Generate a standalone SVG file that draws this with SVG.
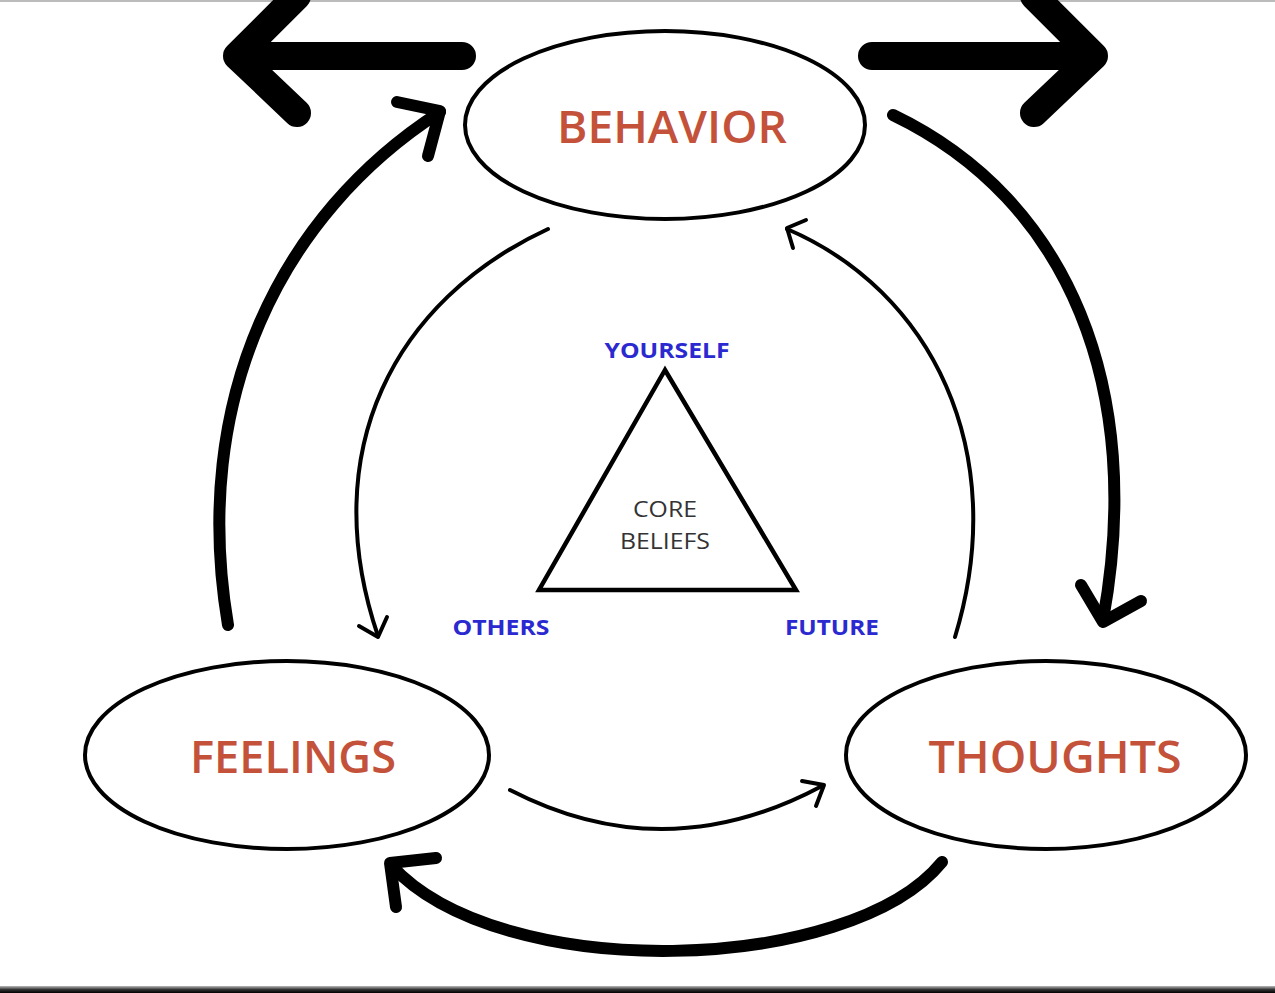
<svg xmlns="http://www.w3.org/2000/svg" width="1275" height="993" viewBox="0 0 1275 993">
  <defs>
    <linearGradient id="barGrad" x1="0" y1="0" x2="0" y2="1">
      <stop offset="0" stop-color="#bbbbbb"/>
      <stop offset="0.5" stop-color="#333333"/>
      <stop offset="1" stop-color="#000000"/>
    </linearGradient>
  </defs>
  <style>
    .node { fill: #ffffff; stroke: #000000; stroke-width: 4; }
    .main { font-family: "Open Sans", "Liberation Sans", sans-serif; font-weight: 600; font-size: 46px; fill: #c4523a; text-anchor: middle; }
    .dir { font-family: "Open Sans", "Liberation Sans", sans-serif; font-weight: 700; font-size: 21px; fill: #2a2ad0; text-anchor: middle; }
    .core { font-family: "Open Sans", "Liberation Sans", sans-serif; font-weight: 400; font-size: 22px; fill: #333333; text-anchor: middle; }
    .huge { fill: none; stroke: #000; stroke-width: 28; stroke-linecap: round; stroke-linejoin: round; }
    .thick { fill: none; stroke: #000; stroke-width: 12; stroke-linecap: round; stroke-linejoin: round; }
    .thin { fill: none; stroke: #000; stroke-width: 4; stroke-linecap: round; stroke-linejoin: round; }
  </style>
  <rect x="0" y="0" width="1275" height="993" fill="#ffffff"/>
  <rect x="0" y="0" width="1275" height="2" fill="#bbbbbb"/>
  <rect x="0" y="986" width="1275" height="7" fill="url(#barGrad)"/>

  <g id="connectors">
    <!-- top outward arrows -->
    <path class="huge" d="M462,56 L237,56 M297,-4 L237,56 L297,113"/>
    <path class="huge" d="M872,56 L1094,56 M1034,-4 L1094,56 L1034,113"/>
    <!-- Feelings -> Behavior (thick, left) -->
    <path class="thick" d="M228,625 C190,400 280,215 440,112"/>
    <path class="thick" d="M397,102 L440,111 L428,156"/>
    <!-- Behavior -> Thoughts (thick, right) -->
    <path class="thick" d="M893,115 C1070,200 1145,390 1103,620"/>
    <path class="thick" d="M1081,585 L1103,622 L1141,601"/>
    <!-- Thoughts -> Feelings (thick, bottom) -->
    <path class="thick" d="M942,862 C850,975 500,985 391,865"/>
    <path class="thick" d="M436,858 L390,863 L396,907"/>
    <!-- Feelings -> Thoughts (thin) -->
    <path class="thin" d="M510,790 Q665,870 822,786"/>
    <path class="thin" d="M802,781 L824,785 L816,806"/>
    <!-- Behavior -> Feelings (thin, inner left) -->
    <path class="thin" d="M548,229 C395,300 315,450 378,636"/>
    <path class="thin" d="M359,626 L378,637 L387,617"/>
    <!-- Thoughts -> Behavior (thin, inner right) -->
    <path class="thin" d="M955,637 C1012,450 930,290 787,229"/>
    <path class="thin" d="M806,220 L787,228 L793,248"/>
  </g>

  <g id="behavior">
    <ellipse class="node" cx="665" cy="125" rx="200" ry="94"/>
    <text class="main" x="672" y="143" textLength="230" lengthAdjust="spacingAndGlyphs">BEHAVIOR</text>
  </g>
  <g id="feelings">
    <ellipse class="node" cx="287" cy="755" rx="202" ry="94"/>
    <text class="main" x="293" y="773" textLength="206" lengthAdjust="spacingAndGlyphs">FEELINGS</text>
  </g>
  <g id="thoughts">
    <ellipse class="node" cx="1046" cy="755" rx="200" ry="94"/>
    <text class="main" x="1055" y="773" textLength="253" lengthAdjust="spacingAndGlyphs">THOUGHTS</text>
  </g>

  <g id="core-beliefs">
    <polygon points="665,370 539,590 796,590" fill="#ffffff" stroke="#000" stroke-width="4.5" stroke-linejoin="miter"/>
    <text class="core" x="665" y="517" textLength="64" lengthAdjust="spacingAndGlyphs">CORE</text>
    <text class="core" x="665" y="549" textLength="90" lengthAdjust="spacingAndGlyphs">BELIEFS</text>
  </g>
  <g id="yourself">
    <text class="dir" x="667" y="358" textLength="125" lengthAdjust="spacingAndGlyphs">YOURSELF</text>
  </g>
  <g id="others">
    <text class="dir" x="501" y="635" textLength="97" lengthAdjust="spacingAndGlyphs">OTHERS</text>
  </g>
  <g id="future">
    <text class="dir" x="832" y="635" textLength="94" lengthAdjust="spacingAndGlyphs">FUTURE</text>
  </g>
</svg>
